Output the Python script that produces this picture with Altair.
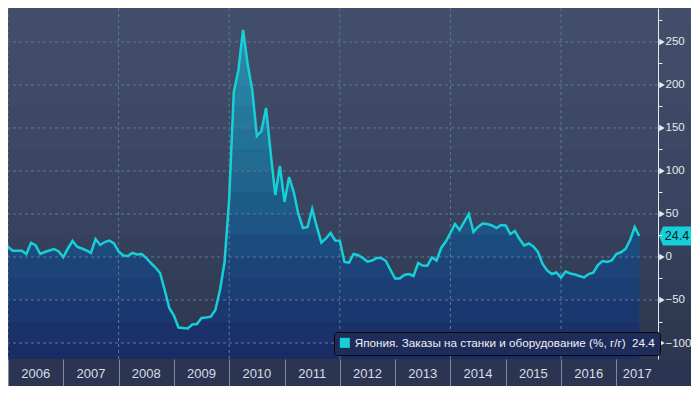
import altair as alt
import pandas as pd

# ---------------- data ----------------
start_month = "2005-11-01"
values = [
    3.0, 4.0,
    12.0, 7.3, 7.3, 7.3, 3.5, 16.6, 13.4, 3.5, 5.8, 7.6, 9.3, 6.4,
    -0.3, 9.9, 18.6, 12.0, 9.9, 7.6, 4.7, 20.9, 14.0, 17.4, 19.0, 15.9,
    6.4, 1.7, 1.2, 4.7, 2.9, 3.5, -1.2, -7.0, -12.2, -18.6, -38.4, -59.3,
    -68.0, -82.0, -82.6, -83.1, -78.5, -77.9, -70.9, -70.3, -69.4, -61.6, -38.4, -5.8,
    68.0, 191.9, 217.4, 264.0, 224.4, 194.2, 140.7, 146.5, 173.3, 120.9, 72.1, 105.8,
    64.0, 93.0, 75.6, 50.0, 33.7, 34.9, 55.8, 35.2, 16.6, 21.5, 27.9, 19.2,
    19.0, -5.8, -6.6, 3.5, 2.0, -1.2, -5.5, -4.1, -1.2, -1.2, -4.7, -15.1,
    -25.0, -25.0, -20.9, -19.8, -22.1, -7.0, -9.9, -10.1, -0.6, -4.1, 10.5, 18.0,
    27.9, 38.4, 31.4, 40.7, 50.0, 29.1, 34.9, 39.0, 38.4, 36.6, 33.7, 37.2,
    36.6, 26.7, 30.2, 20.9, 13.4, 15.7, 12.2, 5.8, -8.1, -15.7, -19.8, -18.0,
    -24.0, -16.9, -19.2, -20.3, -22.1, -23.8, -19.8, -18.3, -9.3, -4.7, -5.8, -4.1,
    3.5, 5.5, 9.3, 19.8, 34.9, 24.4,
]
years = list(range(2006, 2018))
grid_years = [2006, 2008, 2010, 2012, 2014, 2016]
grid_values = [-100, -50, 0, 50, 100, 150, 200, 250]
axis_ticks = list(range(-100, 300, 25))
series_name = "Япония. Заказы на станки и оборудование (%, г/г)\u00a0\u00a024.4"
last_label = "24.4"

# ---------------- layout / style ----------------
W, H = 650, 351
RIGHT = 33
BAND_H = 27
X_DOM = [2006.0, 2017.754]
Y_DOM = [-118.6, 289.5]
FONT = "Liberation Sans, Arial, sans-serif"
CYAN = "#17d0d7"
AXIS_TXT = "#e6e9ef"
BAND_BG = "#2b3551"
GRID = "#5d7a94"


def _rgb(h):
    h = h.lstrip("#")
    return [int(h[i:i + 2], 16) for i in (0, 2, 4)]


def _interp(anchors, v):
    anchors = sorted(anchors, key=lambda a: a[0])
    if v <= anchors[0][0]:
        return anchors[0][1]
    if v >= anchors[-1][0]:
        return anchors[-1][1]
    for (v0, c0), (v1, c1) in zip(anchors, anchors[1:]):
        if v0 <= v <= v1:
            f = (v - v0) / (v1 - v0)
            a, b = _rgb(c0), _rgb(c1)
            return "#" + "".join(f"{round(x + (y - x) * f):02x}" for x, y in zip(a, b))


def _px(v):
    return (Y_DOM[1] - v) / (Y_DOM[1] - Y_DOM[0]) * H


def banded(anchors, top_px, bot_px, step=25):
    stops = []
    hi = 300
    span = bot_px - top_px
    while hi > -150:
        lo = hi - step
        c = _interp(anchors, (hi + lo) / 2)
        p0 = min(max((_px(hi) - top_px) / span, 0), 1)
        p1 = min(max((_px(lo) - top_px) / span, 0), 1)
        if p1 > p0:
            stops.append(alt.GradientStop(color=c, offset=p0))
            stops.append(alt.GradientStop(color=c, offset=p1))
        hi = lo
    return alt.LinearGradient(gradient="linear", stops=stops, x1=0, x2=0, y1=0, y2=1)


bg_anchors = [(290, "#424f6b"), (200, "#3e4a66"), (100, "#3a4662"), (25, "#36425d"),
              (-25, "#323d57"), (-75, "#2f3a52"), (-120, "#2d3850")]
area_anchors = [(264, "#2b8dab"), (200, "#2781a3"), (150, "#237598"), (100, "#20688f"),
                (50, "#1e5886"), (0, "#1c487b"), (-50, "#1b3a71"), (-100, "#1a2e68"),
                (-125, "#1a2b64")]

# ---------------- frames ----------------
dates = pd.date_range(start_month, periods=len(values), freq="MS")
df = pd.DataFrame({"t": dates.year + (dates.month - 1) / 12.0, "v": values, "s": series_name})
last = df.tail(1).assign(lbl=last_label)
yr = pd.DataFrame({"year": years})
yr["pos"] = [min(y + 0.5, (y + X_DOM[1]) / 2) for y in years]
yr["txt"] = [str(y) for y in years]
gx = pd.DataFrame({"g": grid_years})
gy = pd.DataFrame({"g": grid_values})
one = pd.DataFrame({"k": [0]})

xs = alt.Scale(domain=X_DOM, nice=False, zero=False)
ys = alt.Scale(domain=Y_DOM, nice=False, zero=False)

XAX = alt.Axis(values=years, labels=False, domain=False, grid=False, tickColor="#7f8aa0",
               tickSize=BAND_H, tickWidth=1, title=None, zindex=2)
YAX = alt.Axis(orient="right", values=axis_ticks, format="d",
               labelExpr="datum.value % 50 === 0 ? datum.label : ''",
               grid=False, domainColor=AXIS_TXT, tickColor=AXIS_TXT, tickSize=4,
               labelColor=AXIS_TXT, labelFont=FONT, labelFontSize=11.5, labelPadding=3,
               labelOverlap=False, labelBound=False, title=None, zindex=2)

bg = alt.Chart(one).mark_rect(fill=banded(bg_anchors, 0, H), stroke=None).encode(
    x=alt.value(0), x2=alt.value(W + RIGHT), y=alt.value(0), y2=alt.value(H))
band = alt.Chart(one).mark_rect(fill=BAND_BG).encode(
    x=alt.value(0), x2=alt.value(W + RIGHT), y=alt.value(H), y2=alt.value(H + BAND_H))

top_px = _px(max(values))
area = alt.Chart(df).mark_area(fill=banded(area_anchors, top_px, H), clip=True).encode(
    x=alt.X("t:Q", scale=xs, axis=XAX),
    y=alt.Y("v:Q", scale=ys, axis=YAX),
    y2=alt.datum(Y_DOM[0]))

vgrid = alt.Chart(gx).mark_rule(color=GRID, strokeDash=[3, 3], strokeWidth=1).encode(
    x=alt.X("g:Q", scale=xs, axis=XAX))
hgrid = alt.Chart(gy).mark_rule(color=GRID, strokeDash=[3, 3], strokeWidth=1).encode(
    y=alt.Y("g:Q", scale=ys, axis=YAX))

# arrow markers on the major ticks of the right axis
arrows = alt.Chart(gy).mark_point(shape="triangle-right", filled=True, color=AXIS_TXT,
                                  opacity=1, size=40).encode(
    x=alt.value(W + 4), y=alt.Y("g:Q", scale=ys, axis=YAX))

line = alt.Chart(df).mark_line(strokeWidth=2.5, clip=True).encode(
    x=alt.X("t:Q", scale=xs, axis=XAX),
    y=alt.Y("v:Q", scale=ys, axis=YAX),
    color=alt.Color("s:N", scale=alt.Scale(range=[CYAN]), legend=alt.Legend(
        title=None, orient="none", legendX=326, legendY=324, fillColor="#1f2c59",
        strokeColor="#05070c", cornerRadius=3, padding=5, symbolType="square",
        symbolSize=100, symbolFillColor=CYAN, symbolStrokeColor=CYAN,
        symbolStrokeWidth=0, symbolOpacity=1, labelColor="#eef1f6", labelFont=FONT,
        labelFontSize=11.7, labelLimit=600, zindex=3)))

year_labels = alt.Chart(yr).mark_text(fontSize=13, font=FONT, color="#d8dde6",
                                      baseline="middle").encode(
    x=alt.X("pos:Q", scale=xs, axis=XAX),
    y=alt.value(H + 15),
    text="txt:N")

tag_shape = "M -1 0 L -0.75 -0.6 L 1 -0.6 L 1 0.6 L -0.75 0.6 Z"
tag = alt.Chart(last).mark_point(shape=tag_shape, filled=True, fill=CYAN, opacity=1,
                                 strokeWidth=0, size=32 * 32).encode(
    x=alt.value(W + 17), y=alt.Y("v:Q", scale=ys, axis=YAX))
tag_text = alt.Chart(last).mark_text(fontSize=12.5, font=FONT, color="#06202a").encode(
    x=alt.value(W + 19), y=alt.Y("v:Q", scale=ys, axis=YAX), text="lbl:N")

chart = alt.layer(bg, band, area, vgrid, hgrid, line, year_labels, arrows, tag,
                  tag_text).properties(
    width=W, height=H, background=BAND_BG,
    padding={"left": 0, "top": 0, "right": RIGHT, "bottom": BAND_H},
    autosize=alt.AutoSizeParams(type="none")
).configure_view(stroke=None)

chart.save("out.html", embed_options={"renderer": "svg", "actions": False})
